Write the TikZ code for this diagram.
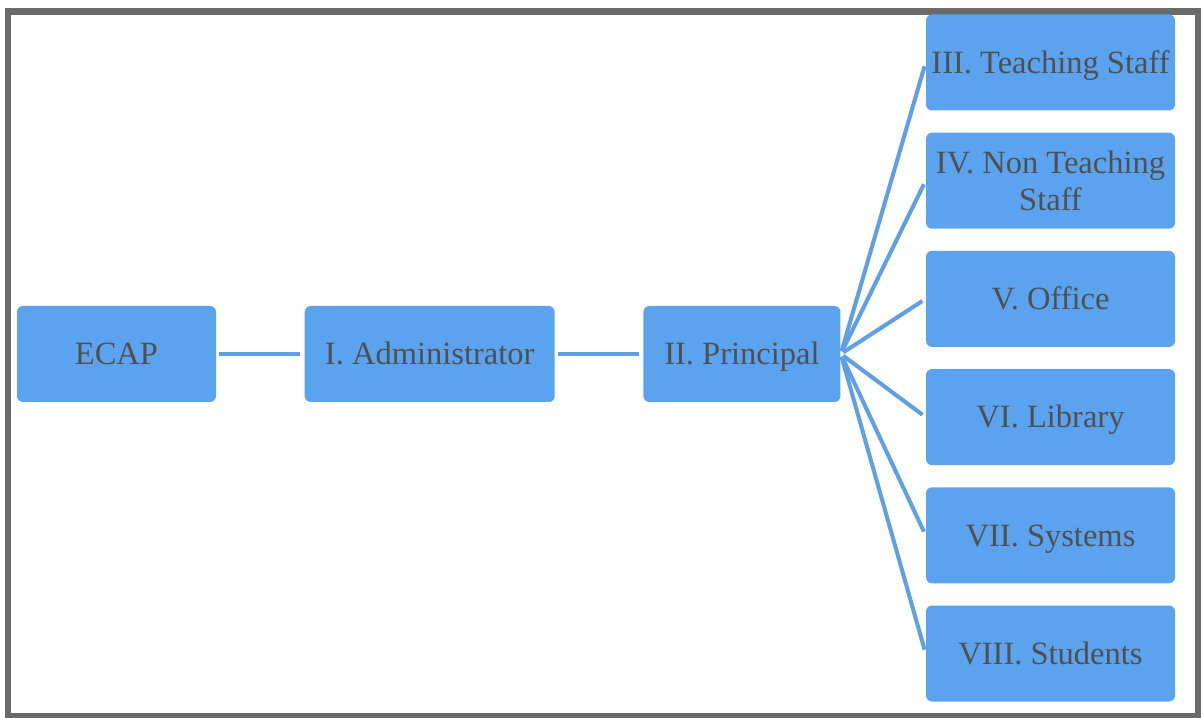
\documentclass[tikz,border=0pt]{standalone}
\usepackage{fontspec}
\setmainfont{Liberation Serif}
\newfontfamily\orgfont{LiberationSerif-Regular.ttf}
\usetikzlibrary{positioning}
\definecolor{CBox}{HTML}{5BA3EE}
\definecolor{CLink}{HTML}{5E9FE6}
\definecolor{CText}{HTML}{505050}
\definecolor{CFrame}{HTML}{6B6B6B}
\tikzset{
    orgbox/.style={
        rectangle,
        rounded corners=0.12cm,
        fill=CBox,
        text=CText,
        minimum width=4.98cm,
        minimum height=1.92cm,
        inner sep=2pt,
        text height=16.2pt,
        text depth=4pt,
        align=center,
        font=\orgfont\fontsize{18.5}{21}\selectfont
    },
    orglink/.style={
        draw=CLink,
        line width=2.3pt,
        shorten <=0.06cm,
        shorten >=0.08cm
    }
}

\begin{document}
\begin{tikzpicture}
    \useasboundingbox (0,0) rectangle (24.08,14.36);

    % Frame
    \draw[CFrame, line width=0.13cm] (0.16,0.04) rectangle (23.96,14.13);

    % Main chain
    \node[orgbox, minimum width=3.98cm] (ecap) at (2.33,7.28) {ECAP};
    \node[orgbox, minimum width=5.0cm, right=1.76cm of ecap] (admin) {I. Administrator};
    \node[orgbox, minimum width=3.94cm, right=1.76cm of admin] (principal) {II. Principal};

    % Departments
    \node[orgbox] (teach) at (21.01,13.11) {III. Teaching Staff};
    \node[orgbox, text height=, text depth=, below=0.43cm of teach] (nonteach) {IV. Non Teaching\\Staff};
    \node[orgbox, below=0.43cm of nonteach] (office) {V. Office};
    \node[orgbox, below=0.43cm of office] (library) {VI. Library};
    \node[orgbox, below=0.43cm of library] (systems) {VII. Systems};
    \node[orgbox, below=0.43cm of systems] (students) {VIII. Students};

    % Links
    \draw[orglink] (ecap) -- (admin);
    \draw[orglink] (admin) -- (principal);
    \draw[orglink] (principal.east) -- (teach.west);
    \draw[orglink] (principal.east) -- (nonteach.west);
    \draw[orglink] (principal.east) -- (office.west);
    \draw[orglink] (principal.east) -- (library.west);
    \draw[orglink] (principal.east) -- (systems.west);
    \draw[orglink] (principal.east) -- (students.west);
\end{tikzpicture}
\end{document}
